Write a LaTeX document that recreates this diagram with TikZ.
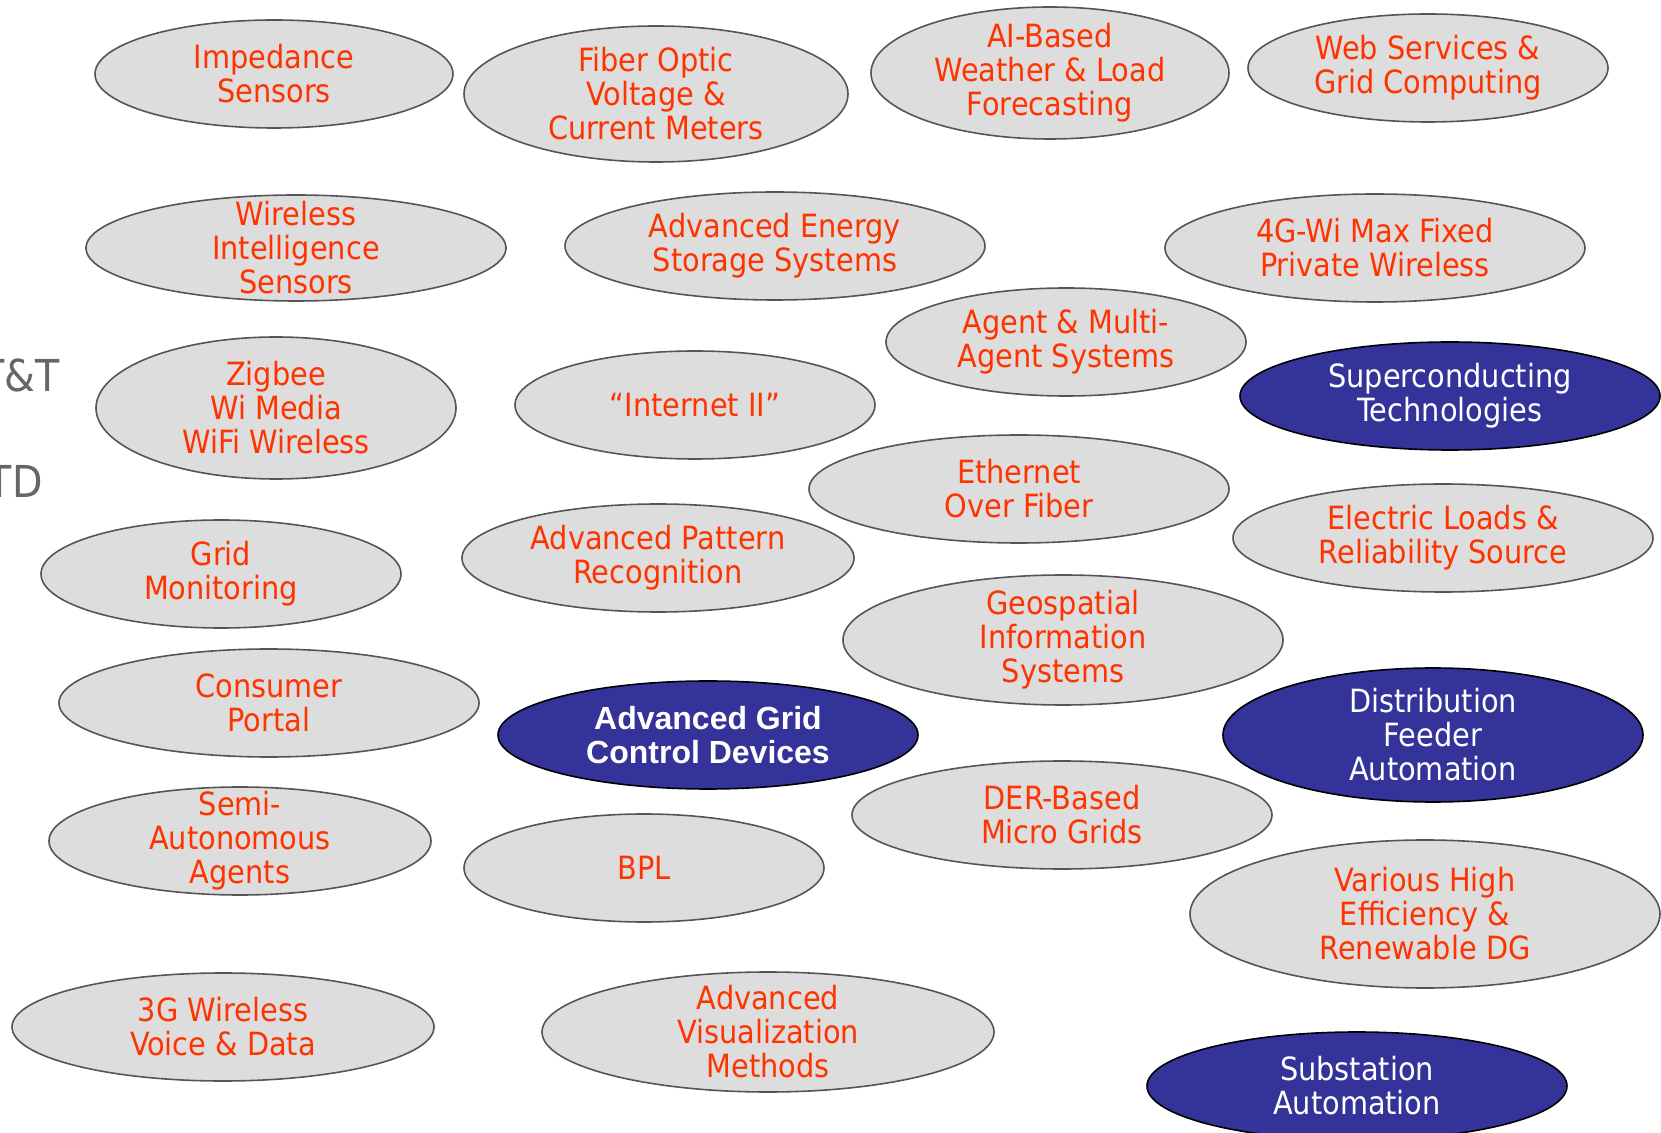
\documentclass[tikz,border=0pt]{standalone}
\usepackage{fontspec}
\setmainfont{DejaVu Sans Condensed}
\newfontfamily\arialfont{Liberation Sans}
\usetikzlibrary{shapes.geometric}

\definecolor{bubblegray}{HTML}{DDDDDD}
\definecolor{edgegray}{HTML}{555555}
\definecolor{keyblue}{HTML}{333399}
\definecolor{tagred}{HTML}{FF3300}
\definecolor{sidegray}{HTML}{666666}

\begin{document}
\begin{tikzpicture}[x=0.5pt, y=-0.5pt,
    bubble/.style={ellipse, draw=edgegray, fill=bubblegray, line width=0.8pt, inner sep=0pt},
    keybubble/.style={ellipse, draw=black, fill=keyblue, line width=0.8pt, inner sep=0pt},
    ext/.style 2 args={minimum width=#1pt, minimum height=#2pt},
    tag/.style={text=tagred, align=center, font=\fontsize{16}{17}\selectfont},
    keytag/.style={text=white, align=center, font=\fontsize{16}{17}\selectfont},
    sidetag/.style={text=sidegray, inner sep=0pt, font=\fontsize{22}{24}\selectfont}]
  \useasboundingbox (0,0) rectangle (1661,1133);

  % cut-off labels at the left edge
  \node [sidetag, anchor=base east] (sideA) at (60,392) {T\&T};
  \node [sidetag, anchor=base east] (sideB) at (43,498) {TD};

  % first column
  \node [bubble, ext={179}{54}] (imp) at (274,74) {};
  \node [tag] (imp-t) at (imp) {Impedance\\Sensors};
  \node [bubble, ext={210}{53}] (wis) at (296,248) {};
  \node [tag] (wis-t) at (wis) {Wireless\\Intelligence\\Sensors};
  \node [bubble, ext={180}{71}] (zig) at (276,408) {};
  \node [tag] (zig-t) at (zig) {Zigbee\\Wi Media\\WiFi Wireless};
  \node [bubble, ext={180}{54}] (grid) at (221,574) {};
  \node [tag] (grid-t) at (grid) {Grid\\Monitoring};
  \node [bubble, ext={210}{54}] (cons) at (269,703) {};
  \node [tag] (cons-t) at (cons) {Consumer\\Portal};
  \node [bubble, ext={191}{54}] (semi) at (240,841) {};
  \node [tag] (semi-t) at (semi) {Semi-\\Autonomous\\Agents};
  \node [bubble, ext={211}{54}] (g3) at (223,1027) {};
  \node [tag] (g3-t) at (g3) {3G Wireless\\Voice \& Data};

  % second column
  \node [bubble, ext={192}{68}] (fib) at (656,94) {};
  \node [tag] (fib-t) at (fib) {Fiber Optic\\Voltage \&\\Current Meters};
  \node [bubble, ext={210}{54}] (stor) at (775,246) {};
  \node [tag] (stor-t) at (stor) {Advanced Energy\\Storage Systems};
  \node [bubble, ext={180}{54}] (inet) at (695,405) {};
  \node [tag] (inet-t) at (inet) {“Internet II”};
  \node [bubble, ext={196}{54}] (patt) at (658,558) {};
  \node [tag] (patt-t) at (patt) {Advanced Pattern\\Recognition};
  \node [keybubble, ext={210}{54}] (ctrl) at (708,735) {};
  \node [keytag, font=\arialfont\bfseries\fontsize{16}{17}\selectfont] (ctrl-t) at (ctrl) {Advanced Grid\\Control Devices};
  \node [bubble, ext={180}{54}] (bpl) at (644,868) {};
  \node [tag] (bpl-t) at (bpl) {BPL};
  \node [bubble, ext={226}{60}] (vis) at (768,1032) {};
  \node [tag] (vis-t) at (vis) {Advanced\\Visualization\\Methods};

  % third column
  \node [bubble, ext={179}{66}] (ai) at (1050,73) {};
  \node [tag] (ai-t) at (ai) {AI-Based\\Weather \& Load\\Forecasting};
  \node [bubble, ext={180}{54}] (agent) at (1066,342) {};
  \node [tag] (agent-t) at (agent) {Agent \& Multi-\\Agent Systems};
  \node [bubble, ext={210}{54}] (eth) at (1019,489) {};
  \node [tag] (eth-t) at (eth) {Ethernet\\Over Fiber};
  \node [bubble, ext={220}{65}] (geo) at (1063,640) {};
  \node [tag] (geo-t) at (geo) {Geospatial\\Information\\Systems};
  \node [bubble, ext={210}{54}] (der) at (1062,815) {};
  \node [tag] (der-t) at (der) {DER-Based\\Micro Grids};

  % fourth column
  \node [bubble, ext={180}{54}] (web) at (1428,68) {};
  \node [tag] (web-t) at (web) {Web Services \&\\Grid Computing};
  \node [bubble, ext={210}{54}] (wimax) at (1375,248) {};
  \node [tag] (wimax-t) at (wimax) {4G-Wi Max Fixed\\Private Wireless};
  \node [keybubble, ext={210}{54}] (super) at (1450,396) {};
  \node [keytag] (super-t) at (super) {Superconducting\\Technologies};
  \node [bubble, ext={210}{54}] (load) at (1443,538) {};
  \node [tag] (load-t) at (load) {Electric Loads \&\\Reliability Source};
  \node [keybubble, ext={210}{67}] (feed) at (1433,735) {};
  \node [keytag] (feed-t) at (feed) {Distribution\\Feeder\\Automation};
  \node [bubble, ext={235}{74}] (dg) at (1425,914) {};
  \node [tag] (dg-t) at (dg) {Various High\\Efficiency \&\\Renewable DG};
  \node [keybubble, ext={210}{54}] (sub) at (1357,1086) {};
  \node [keytag] (sub-t) at (sub) {Substation\\Automation};
\end{tikzpicture}
\end{document}
